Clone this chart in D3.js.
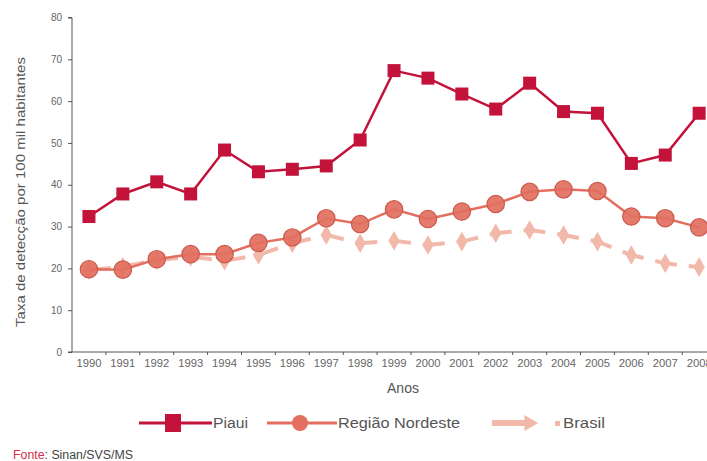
<!DOCTYPE html>
<html>
<head>
<meta charset="utf-8">
<script src="https://cdn.jsdelivr.net/npm/d3@7"></script>
<style>
  body { margin: 0; background: #fff; }
  text { font-family: "Liberation Sans", Arial, sans-serif; }
</style>
</head>
<body>
<script>
var years = ["1990","1991","1992","1993","1994","1995","1996","1997","1998","1999",
             "2000","2001","2002","2003","2004","2005","2006","2007","2008"];
var piaui = [32.4,37.8,40.7,37.8,48.3,43.1,43.7,44.5,50.7,67.3,65.5,61.7,58.1,64.3,57.5,57.1,45.1,47.1,57.1];
var nordeste = [19.8,19.7,22.2,23.4,23.4,26.1,27.4,32.0,30.6,34.1,31.8,33.6,35.4,38.3,38.9,38.5,32.4,32.0,29.8];
var brasil = [19.6,20.4,22.0,22.8,21.8,23.2,26.0,28.0,26.0,26.6,25.6,26.4,28.4,29.2,28.0,26.4,23.2,21.2,20.3];
var yTicks = [0,10,20,30,40,50,60,70,80];

var W = 707, H = 461;
var margin = {top: 17.5, left: 72};

var svg = d3.select("body").append("svg")
  .attr("width", W).attr("height", H);

var x = d3.scaleBand().domain(years)
  .range([margin.left, margin.left + 19 * 33.9]);
var y = d3.scaleLinear().domain([0, 80])
  .range([352, margin.top]);

// axes
var yAxis = d3.axisLeft(y).tickValues(yTicks).tickSize(4).tickPadding(6);
var gy = svg.append("g").attr("transform", "translate(" + margin.left + ",0)").call(yAxis);
gy.select(".domain").attr("stroke", "#555").attr("d", "M-4," + y(80) + "H0V" + y(0));
gy.selectAll("text").attr("font-size", 10).attr("fill", "#666");
gy.selectAll("line").attr("stroke", "#555");

var gx = svg.append("g").attr("transform", "translate(0," + y(0) + ")");
gx.append("line").attr("x1", margin.left - 4).attr("x2", W)
  .attr("stroke", "#555");
gx.selectAll(".tk").data(years).enter().append("line")
  .attr("x1", function(d){ return x(d) + x.bandwidth(); })
  .attr("x2", function(d){ return x(d) + x.bandwidth(); })
  .attr("y1", 0).attr("y2", 3).attr("stroke", "#555");
gx.selectAll(".lb").data(years).enter().append("text")
  .attr("x", function(d){ return x(d) + x.bandwidth() / 2; })
  .attr("y", 15).attr("text-anchor", "middle")
  .attr("font-size", 10.5).attr("fill", "#666")
  .attr("textLength", 25).attr("lengthAdjust", "spacingAndGlyphs")
  .text(function(d){ return d; });

// axis titles
svg.append("text").attr("x", 403).attr("y", 393).attr("text-anchor", "middle")
  .attr("font-size", 14).attr("fill", "#555").text("Anos");
svg.append("text").attr("transform", "translate(25,192) rotate(-90)")
  .attr("text-anchor", "middle").attr("font-size", 13).attr("fill", "#555")
  .attr("textLength", 270).attr("lengthAdjust", "spacingAndGlyphs")
  .text("Taxa de detecção por 100 mil habitantes");

var cx = function(d, i){ return x(years[i]) + x.bandwidth() / 2; };
var line = d3.line().x(cx).y(function(d){ return y(d); });

var cBr = "#f2b9ab", cNe = "#e26f5f", cPi = "#c4133a";

// Brasil
svg.append("path").datum(brasil).attr("d", line)
  .attr("fill", "none").attr("stroke", cBr).attr("stroke-width", 4)
  .attr("stroke-dasharray", "22,12");
svg.selectAll(".br").data(brasil).enter().append("path")
  .attr("d", d3.symbol(d3.symbolDiamond, 110))
  .attr("transform", function(d, i){ return "translate(" + cx(d, i) + "," + y(d) + ")"; })
  .attr("fill", cBr);

// Nordeste
svg.append("path").datum(nordeste).attr("d", line)
  .attr("fill", "none").attr("stroke", cNe).attr("stroke-width", 2.5);
svg.selectAll(".ne").data(nordeste).enter().append("circle")
  .attr("cx", cx).attr("cy", function(d){ return y(d); }).attr("r", 8.7)
  .attr("fill", cNe).attr("stroke", "#cc5a4c").attr("stroke-width", 1.2)
  .attr("fill-opacity", 0.92);

// Piaui
svg.append("path").datum(piaui).attr("d", line)
  .attr("fill", "none").attr("stroke", cPi).attr("stroke-width", 2.5);
svg.selectAll(".pi").data(piaui).enter().append("rect")
  .attr("x", function(d, i){ return cx(d, i) - 6.5; })
  .attr("y", function(d){ return y(d) - 6.5; })
  .attr("width", 13).attr("height", 13).attr("fill", cPi);

// legend
var ly = 423;
var lg = svg.append("g");
lg.append("line").attr("x1", 139).attr("x2", 212).attr("y1", ly).attr("y2", ly)
  .attr("stroke", cPi).attr("stroke-width", 3);
lg.append("rect").attr("x", 165).attr("y", ly - 9).attr("width", 16).attr("height", 18).attr("fill", cPi);
lg.append("text").attr("x", 213).attr("y", ly + 5).attr("font-size", 14).attr("fill", "#555")
  .attr("textLength", 35).attr("lengthAdjust", "spacingAndGlyphs").text("Piaui");

lg.append("line").attr("x1", 267).attr("x2", 337).attr("y1", ly).attr("y2", ly)
  .attr("stroke", cNe).attr("stroke-width", 3);
lg.append("circle").attr("cx", 300).attr("cy", ly).attr("r", 8).attr("fill", cNe);
lg.append("text").attr("x", 338).attr("y", ly + 5).attr("font-size", 14).attr("fill", "#555")
  .attr("textLength", 122).attr("lengthAdjust", "spacingAndGlyphs").text("Região Nordeste");

lg.append("line").attr("x1", 492).attr("x2", 526).attr("y1", ly).attr("y2", ly)
  .attr("stroke", cBr).attr("stroke-width", 6);
lg.append("path").attr("d", d3.symbol(d3.symbolTriangle, 110))
  .attr("transform", "translate(529," + ly + ") rotate(90)").attr("fill", cBr);
lg.append("rect").attr("x", 555).attr("y", ly - 2).attr("width", 5).attr("height", 5).attr("fill", cBr);
lg.append("text").attr("x", 563).attr("y", ly + 5).attr("font-size", 14).attr("fill", "#555")
  .attr("textLength", 42).attr("lengthAdjust", "spacingAndGlyphs").text("Brasil");

// source
var src = svg.append("text").attr("x", 13).attr("y", 459).attr("font-size", 12)
  .attr("textLength", 120).attr("lengthAdjust", "spacingAndGlyphs");
src.append("tspan").attr("fill", "#d0304a").text("Fonte");
src.append("tspan").attr("fill", "#444").text(": Sinan/SVS/MS");
</script>
</body>
</html>
